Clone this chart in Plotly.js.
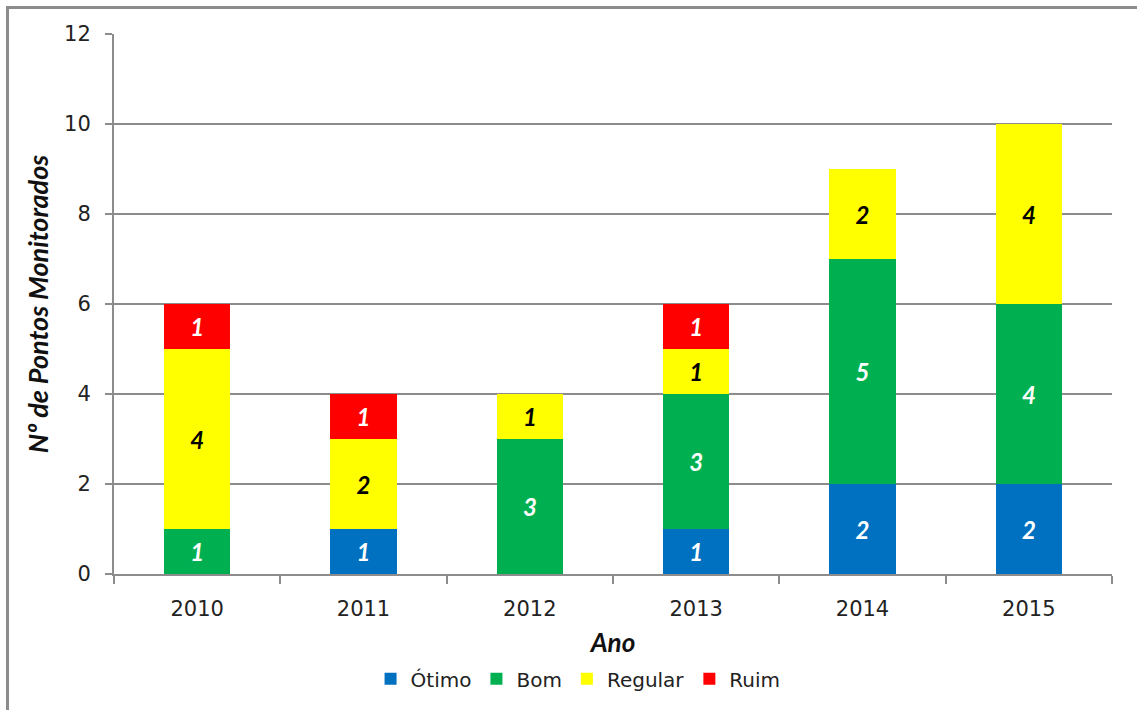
<!DOCTYPE html>
<html><head><meta charset="utf-8">
<script src="https://cdn.plot.ly/plotly-3.0.1.min.js"></script>
<style>
body{margin:0;background:#fff;}
#wrap{position:relative;width:1137px;height:710px;overflow:hidden;}
#frame{position:absolute;left:6px;top:6px;right:-10px;bottom:-10px;border-left:3px solid #8c8c8c;border-top:3px solid #8c8c8c;pointer-events:none;z-index:5;}
#chart{position:absolute;left:0;top:0;width:1137px;height:710px;}
</style></head>
<body><div id="wrap"><div id="chart"></div><div id="frame"></div></div>
<script>
const years = ['2010','2011','2012','2013','2014','2015'];
const otimo = [0,1,0,1,2,2];
const bom = [1,0,3,3,5,4];
const regular = [4,2,1,1,2,4];
const ruim = [1,1,0,1,0,0];
const seriesNames = ['Ótimo','Bom','Regular','Ruim'];
const colors = ['#0070C0','#00B050','#FFFF00','#FF0000'];
const labelColors = ['#ffffff','#ffffff','#000000','#ffffff'];
const F = 'Lato, "Open Sans", sans-serif';
const T = '"DejaVu Sans", sans-serif';
const data = [otimo,bom,regular,ruim].map((vals,i)=>({
  type:'bar', name:seriesNames[i], x:years, y:vals,
  marker:{color:colors[i], line:{width:0}},
  text: vals.map(v=> v ? String(v) : ''),
  textposition:'inside', insidetextanchor:'middle',
  textfont:{family:F, size:24, color:labelColors[i], weight:'bold', style:'italic'},
  hoverinfo:'skip'
}));
const layout = {
  barmode:'stack', bargap:0.6,
  width:1137, height:710,
  margin:{l:114, r:25, t:34, b:136},
  paper_bgcolor:'rgba(0,0,0,0)', plot_bgcolor:'#fff',
  font:{family:T, color:'#222'},
  xaxis:{type:'category', showline:true, linecolor:'#8c8c8c', linewidth:2, automargin:false,
    ticks:'outside', tickson:'boundaries', ticklen:8, tickcolor:'#8c8c8c', tickwidth:2,
    tickfont:{size:21, family:T, color:'#222'}, ticklabelstandoff:15,
    title:{text:'Ano', font:{size:26, family:F, color:'#111', weight:'bold', style:'italic'}, standoff:14}},
  yaxis:{range:[0,12], dtick:2, showline:true, linecolor:'#8c8c8c', linewidth:2, automargin:false,
    ticks:'outside', ticklen:7, tickcolor:'#8c8c8c', tickwidth:2,
    gridcolor:'#8c8c8c', gridwidth:2, zeroline:false,
    tickfont:{size:21, family:T, color:'#222'}, ticklabelstandoff:10,
    title:{text:'Nº de Pontos Monitorados', font:{size:27, family:F, color:'#111', weight:'bold', style:'italic'}, standoff:8}},
  legend:{orientation:'h', x:0.465, xanchor:'center', y:-0.158, yanchor:'top',
    font:{size:20, family:T, color:'#222'}, traceorder:'normal', itemwidth:20},
  showlegend:true
};
Plotly.newPlot('chart', data, layout, {displayModeBar:false, staticPlot:true});
</script></body></html>
